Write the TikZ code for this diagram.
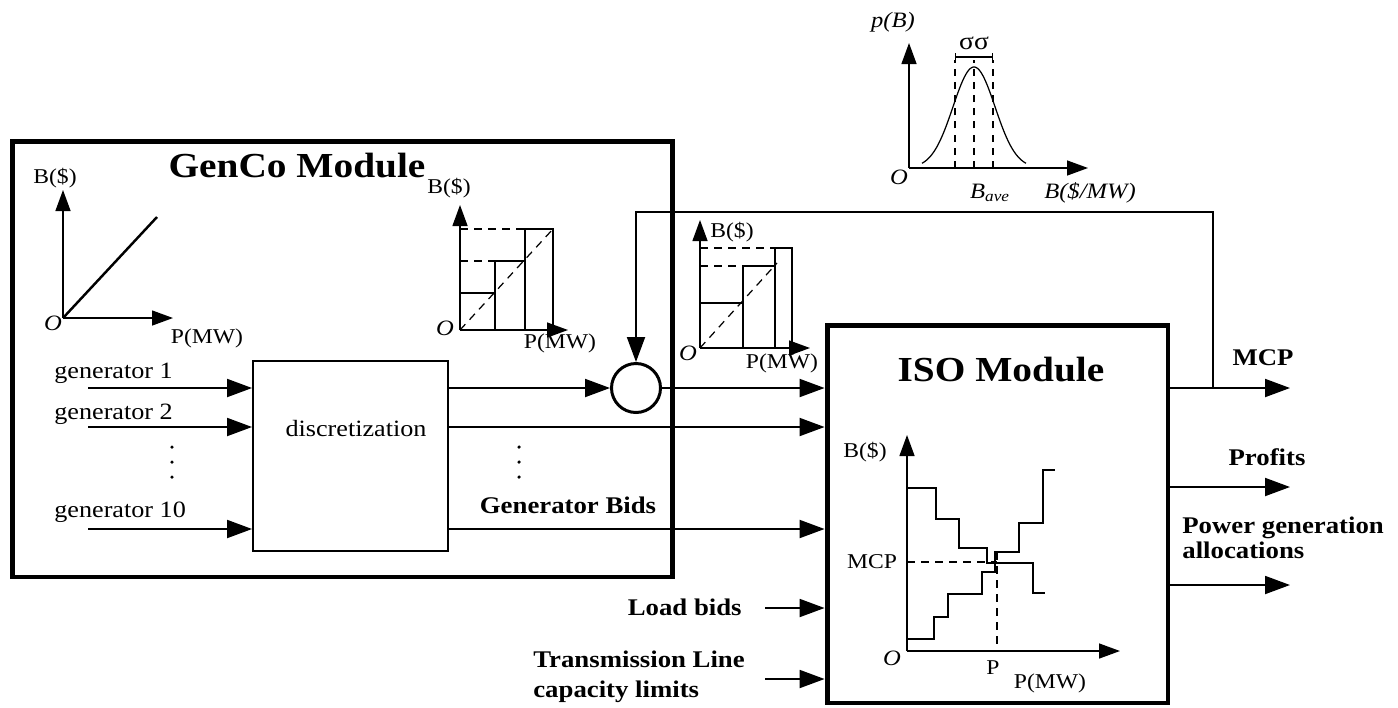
\documentclass[tikz,border=0pt]{standalone}
\usepackage{fontspec}
\setmainfont[FakeStretch=1.12]{Liberation Serif}
\usetikzlibrary{arrows.meta}

\tikzset{
  modbox/.style={draw, line width=2.8pt, inner sep=0pt},
  blockbox/.style={draw, line width=1.1pt, inner sep=0pt},
  sig/.style={line width=1.1pt, -{Triangle[length=0.5cm,width=0.36cm]}},
  axis/.style={line width=0.8pt, -{Triangle[length=0.42cm,width=0.3cm]}},
  bar/.style={line width=1.1pt},
  guide/.style={line width=0.7pt, dash pattern=on 4.5pt off 3.5pt},
  lbl/.style={font=\fontsize{12}{14}\selectfont, inner sep=0pt},
  ilbl/.style={font=\itshape\fontsize{12.5}{14}\selectfont, inner sep=0pt},
  txt/.style={font=\fontsize{13.3}{15}\selectfont, inner sep=0pt},
  btxt/.style={font=\bfseries\fontsize{13.6}{14.2}\selectfont, inner sep=0pt, align=left},
  title/.style={font=\bfseries\fontsize{20}{22}\selectfont, inner sep=0pt},
}

\begin{document}
\begin{tikzpicture}[x=0.02cm, y=-0.02cm]
  \useasboundingbox (0,0) rectangle (1398,707);

  \node[modbox, minimum width=13.22cm, minimum height=8.72cm] (genco) at (342.5,359) {};
  \node[modbox, minimum width=6.82cm, minimum height=7.56cm] (iso) at (997.5,514) {};
  \node[blockbox, minimum width=3.9cm, minimum height=3.8cm] (disc) at (350.5,456) {};
  \node[draw, circle, line width=1.7pt, minimum size=0.98cm, inner sep=0pt] (sum) at (636,388) {};

  \node[title] (gencotitle) at (297,166) {GenCo Module};
  \node[title] (isotitle) at (1001,370) {ISO Module};
  \node[txt] (disctext) at (356,428) {discretization};

  % generator inputs
  \node[txt, anchor=west] (gen1) at (54,373) {generator 1};
  \node[txt, anchor=west] (gen2) at (54,414) {generator 2};
  \node[txt, anchor=west] (gen10) at (54,512) {generator 10};
  \foreach \y/\n in {388/1, 427/2, 529/10} {
    \coordinate (in\n) at (88,\y);
    \draw[sig] (in\n) -- (in\n -| disc.west);
  }
  \foreach \x in {172, 519}
    \foreach \y in {447, 462, 477}
      \fill (\x,\y) circle[radius=1pt];

  % generator bids
  \draw[sig] (disc.east |- sum) -- (sum.west);
  \draw[sig] (sum.east) -- (sum.east -| iso.west);
  \draw[sig] (disc.east |- in2) -- (in2 -| iso.west);
  \draw[sig] (disc.east |- in10) -- (in10 -| iso.west);
  \node[btxt] (bids) at (568,505) {Generator Bids};

  % other ISO inputs
  \coordinate (ld) at (765,608);
  \coordinate (tl) at (765,679);
  \draw[sig] (ld) -- (ld -| iso.west);
  \draw[sig] (tl) -- (tl -| iso.west);
  \node[btxt, anchor=east] (loadbids) at (742,607) {Load bids};
  \node[btxt, anchor=west, font=\bfseries\fontsize{13.6}{17}\selectfont] (trans) at (533,677) {Transmission Line\\capacity limits};

  % ISO outputs
  \coordinate (mcpout) at (1290,388);
  \coordinate (prout) at (1290,487);
  \coordinate (pwout) at (1290,585);
  \coordinate (fb) at (1213,388);
  \coordinate (fbtop) at (1213,212);
  \draw[sig] (mcpout -| iso.east) -- (mcpout);
  \draw[sig] (prout -| iso.east) -- (prout);
  \draw[sig] (pwout -| iso.east) -- (pwout);
  \draw[sig] (fb) -- (fbtop) -- (fbtop -| sum) -- (sum.north);
  \node[btxt] (mcp) at (1263,358) {MCP};
  \node[btxt] (profits) at (1267,457) {Profits};
  \node[btxt, anchor=west] (power) at (1182,538) {Power generation\\allocations};

  % cost curve
  \draw[axis] (63,318) -- (63,190);
  \draw[axis] (63,318) -- (173,318);
  \draw[line width=1.4pt] (63,318) -- (157,217);
  \node[lbl] (costb) at (55,178) {B(\$)};
  \node[lbl] (costp) at (207,338) {P(MW)};
  \node[ilbl] (costo) at (53,323) {O};

  % discretized bids
  \draw[axis] (460,330) -- (460,205);
  \draw[axis] (460,330) -- (568,330);
  \draw[bar] (460,293) -- (495,293);
  \draw[bar] (495,330) -- (495,261) -- (525,261);
  \draw[bar] (525,330) -- (525,229) -- (553,229) -- (553,330);
  \draw[guide] (460,261) -- (495,261);
  \draw[guide] (460,229) -- (525,229);
  \draw[guide] (460,330) -- (553,229);
  \node[lbl] (discb) at (449,188) {B(\$)};
  \node[lbl] (discp) at (560,343) {P(MW)};
  \node[ilbl] (disco) at (445,328) {O};

  % perturbed bids
  \draw[axis] (700,348) -- (700,220);
  \draw[axis] (700,348) -- (810,348);
  \draw[bar] (700,303) -- (743,303);
  \draw[bar] (743,348) -- (743,266) -- (775,266);
  \draw[bar] (775,348) -- (775,248) -- (792,248) -- (792,348);
  \draw[guide] (700,266) -- (743,266);
  \draw[guide] (700,248) -- (775,248);
  \draw[guide] (700,348) -- (777,263);
  \node[lbl, anchor=west] (pertb) at (710,232) {B(\$)};
  \node[lbl] (pertp) at (782,363) {P(MW)};
  \node[ilbl] (perto) at (688,353) {O};

  % bid distribution
  \draw[axis] (909,168) -- (909,43);
  \draw[axis] (909,168) -- (1088,168);
  \draw[line width=0.7pt] plot[domain=922:1026, samples=70, smooth] (\x, {168-101*exp(-((\x-974)/21)*((\x-974)/21)/2)});
  \foreach \x in {955, 974, 993}
    \draw[guide, line width=0.6pt, dash pattern=on 4pt off 3.5pt] (\x,168) -- (\x,60);
  \draw[line width=0.6pt, {Bar[width=0.16cm]}-{Bar[width=0.16cm]}] (955,57) -- (993,57);
  \node[ilbl] (distp) at (893,22) {p(B)};
  \node[lbl, font=\fontsize{14}{16}\selectfont] (sigma) at (974,43) {σσ};
  \node[ilbl] (disto) at (899,177) {O};
  \node[ilbl] (bave) at (990,193) {B\textsubscript{ave}};
  \node[ilbl] (distb) at (1090,193) {B(\$/MW)};

  % market clearing
  \draw[axis] (907,651) -- (907,435);
  \draw[axis] (907,651) -- (1120,651);
  \draw[line width=1.5pt] (907,488) -- (936,488) -- (936,519) -- (959,519) -- (959,548)
    -- (987,548) -- (987,563) -- (1033,563) -- (1033,593) -- (1045,593);
  \draw[line width=1.3pt] (907,639) -- (934,639) -- (934,617) -- (948,617) -- (948,594)
    -- (982,594) -- (982,572) -- (995,572) -- (995,552) -- (1019,552) -- (1019,523)
    -- (1043,523) -- (1043,470) -- (1055,470);
  \draw[guide] (907,562) -- (997,562);
  \draw[guide] (997,552) -- (997,651);
  \node[lbl] (isob) at (865,452) {B(\$)};
  \node[lbl] (isomcp) at (872,562) {MCP};
  \node[ilbl] (isoo) at (892,658) {O};
  \node[lbl] (isop) at (993,668) {P};
  \node[lbl] (isopmw) at (1050,683) {P(MW)};
\end{tikzpicture}
\end{document}
